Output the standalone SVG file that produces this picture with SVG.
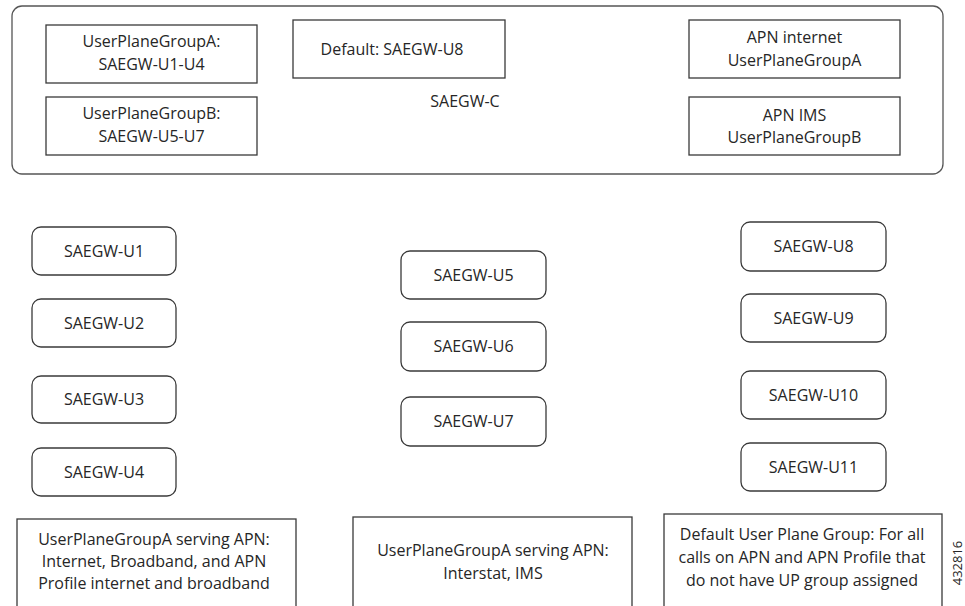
<svg xmlns="http://www.w3.org/2000/svg" width="965" height="606" viewBox="0 0 965 606">
<style>
  .bg { fill: #ffffff; }
  .box { fill: #ffffff; stroke: #3a3a3a; stroke-width: 1.3; }
  .rbox { fill: #ffffff; stroke: #3a3a3a; stroke-width: 1.3; }
  .outer { fill: #ffffff; stroke: #555555; stroke-width: 1.3; }
  text { font-family: "Open Sans", "Liberation Sans", sans-serif; font-size: 16px; fill: #262626; text-anchor: middle; }
  .fig { font-size: 13px; }
</style>
<rect class="bg" x="0" y="0" width="965" height="606"/>

<g id="saegw-c">
  <rect class="outer" x="12" y="6" width="931" height="168" rx="10" ry="10"/>
  <text x="465" y="107">SAEGW-C</text>
</g>

<g id="upg-a">
  <rect class="box" x="46" y="25" width="211" height="58"/>
  <text x="151.5" y="47">UserPlaneGroupA:</text>
  <text x="151.5" y="70">SAEGW-U1-U4</text>
</g>
<g id="upg-b">
  <rect class="box" x="46" y="97" width="211" height="58"/>
  <text x="151.5" y="119">UserPlaneGroupB:</text>
  <text x="151.5" y="142">SAEGW-U5-U7</text>
</g>
<g id="default">
  <rect class="box" x="293" y="20" width="212" height="58"/>
  <text x="392" y="55">Default: SAEGW-U8</text>
</g>
<g id="apn-internet">
  <rect class="box" x="689" y="20" width="211" height="58"/>
  <text x="794.5" y="43">APN internet</text>
  <text x="794.5" y="66">UserPlaneGroupA</text>
</g>
<g id="apn-ims">
  <rect class="box" x="689" y="97" width="211" height="58"/>
  <text x="794.5" y="121">APN IMS</text>
  <text x="794.5" y="143">UserPlaneGroupB</text>
</g>

<g id="u1"><rect class="rbox" x="32" y="227" width="144" height="48" rx="9"/><text x="104" y="257">SAEGW-U1</text></g>
<g id="u2"><rect class="rbox" x="32" y="299" width="144" height="48" rx="9"/><text x="104" y="329">SAEGW-U2</text></g>
<g id="u3"><rect class="rbox" x="32" y="376" width="144" height="47" rx="9"/><text x="104" y="405">SAEGW-U3</text></g>
<g id="u4"><rect class="rbox" x="32" y="448" width="144" height="48" rx="9"/><text x="104" y="478">SAEGW-U4</text></g>

<g id="u5"><rect class="rbox" x="401" y="251" width="145" height="48" rx="9"/><text x="473.5" y="281">SAEGW-U5</text></g>
<g id="u6"><rect class="rbox" x="401" y="322" width="145" height="49" rx="9"/><text x="473.5" y="352">SAEGW-U6</text></g>
<g id="u7"><rect class="rbox" x="401" y="397" width="145" height="49" rx="9"/><text x="473.5" y="427">SAEGW-U7</text></g>

<g id="u8"><rect class="rbox" x="741" y="222" width="145" height="49" rx="9"/><text x="813.5" y="252">SAEGW-U8</text></g>
<g id="u9"><rect class="rbox" x="741" y="294" width="145" height="48" rx="9"/><text x="813.5" y="324">SAEGW-U9</text></g>
<g id="u10"><rect class="rbox" x="741" y="371" width="145" height="48" rx="9"/><text x="813.5" y="401">SAEGW-U10</text></g>
<g id="u11"><rect class="rbox" x="741" y="443" width="145" height="48" rx="9"/><text x="813.5" y="473">SAEGW-U11</text></g>

<g id="note-a">
  <rect class="box" x="17" y="519" width="279" height="100"/>
  <text x="154" y="545">UserPlaneGroupA serving APN:</text>
  <text x="154" y="567">Internet, Broadband, and APN</text>
  <text x="154" y="589">Profile internet and broadband</text>
</g>
<g id="note-b">
  <rect class="box" x="353" y="517" width="279" height="100"/>
  <text x="493" y="556">UserPlaneGroupA serving APN:</text>
  <text x="493" y="579">Interstat, IMS</text>
</g>
<g id="note-default">
  <rect class="box" x="664" y="514" width="278" height="100"/>
  <text x="802" y="540">Default User Plane Group: For all</text>
  <text x="802" y="563">calls on APN and APN Profile that</text>
  <text x="802" y="586">do not have UP group assigned</text>
</g>

<g id="connectors"></g>

<text class="fig" x="0" y="0" transform="translate(962 563) rotate(-90)">432816</text>
</svg>
